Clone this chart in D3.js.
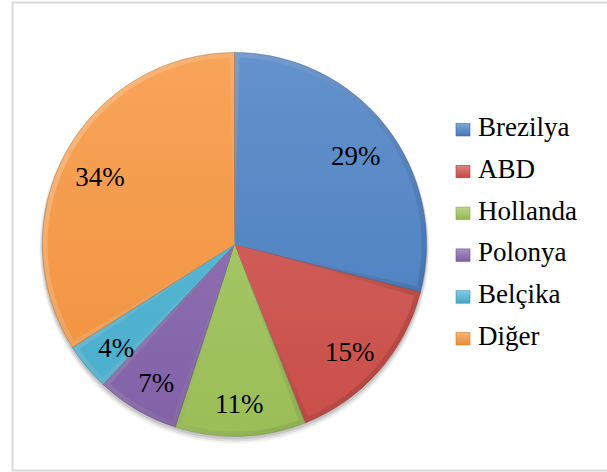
<!DOCTYPE html>
<html>
<head>
<meta charset="utf-8">
<script src="https://cdn.jsdelivr.net/npm/d3@7/dist/d3.min.js"></script>
</head>
<body style="margin:0">
<svg id="chart" width="607" height="472"></svg>
<script>
// data
const categories = ["Brezilya", "ABD", "Hollanda", "Polonya", "Belçika", "Diğer"];
const shares = [29, 15, 11, 7, 4, 34];
const palette = ["#4A80C4", "#CF504B", "#9FC45A", "#8664AC", "#4AB2D2", "#F7953E"];

const FONT = "'Liberation Serif', 'Times New Roman', serif";
const cx = 234.5, cy = 244.5, radius = 192;

const svg = d3.select("#chart");
const defs = svg.append("defs");

// frame
svg.append("rect")
    .attr("x", 12.5).attr("y", 2.5)
    .attr("width", 610).attr("height", 468)
    .attr("fill", "#fff")
    .attr("stroke", "#d9d9d9")
    .attr("stroke-width", 2);

const tint = (c, t) => d3.interpolateRgb(c, "#fff")(t);

palette.forEach((c, i) => {
  // face: a touch lighter on top
  const g = defs.append("linearGradient").attr("id", "grad" + i)
      .attr("gradientUnits", "userSpaceOnUse")
      .attr("x1", 0).attr("y1", -radius).attr("x2", 0).attr("y2", radius);
  g.append("stop").attr("offset", "0%").attr("stop-color", tint(c, 0.14));
  g.append("stop").attr("offset", "100%").attr("stop-color", d3.color(c).darker(0.08));

  // bevel band: light upper-left, dark lower-right
  const b = defs.append("linearGradient").attr("id", "bevel" + i)
      .attr("gradientUnits", "userSpaceOnUse")
      .attr("x1", -radius * 0.7).attr("y1", -radius * 0.7).attr("x2", radius * 0.7).attr("y2", radius * 0.7);
  b.append("stop").attr("offset", "0%").attr("stop-color", tint(c, 0.3));
  b.append("stop").attr("offset", "100%").attr("stop-color", d3.color(c).darker(0.35));

  const lg = defs.append("linearGradient").attr("id", "leg" + i)
      .attr("x1", 0).attr("y1", 0).attr("x2", 0).attr("y2", 1);
  lg.append("stop").attr("offset", "0%").attr("stop-color", tint(c, 0.3));
  lg.append("stop").attr("offset", "100%").attr("stop-color", d3.color(c).darker(0.2));
});

const pie = d3.pie().value(d => d).sort(null);
const arcs = pie(shares);

const outer = d3.arc().innerRadius(0).outerRadius(radius);
const inner = d3.arc().innerRadius(0).outerRadius(radius - 5)
    .padAngle(10 / radius).padRadius(radius);
const labelArc = d3.arc().innerRadius(radius * 0.8).outerRadius(radius * 0.8);

const g = svg.append("g").attr("transform", `translate(${cx},${cy})`);

// soft shadow: a few faint rings just below the pie
[4, 3, 2].forEach((o, k) => {
  g.append("circle")
      .attr("cx", 0).attr("cy", o)
      .attr("r", radius + o - 1)
      .attr("fill", "#000")
      .attr("fill-opacity", 0.05 + k * 0.03);
});

g.selectAll("path.edge")
  .data(arcs).join("path")
    .attr("class", "edge")
    .attr("d", outer)
    .attr("fill", (d, i) => `url(#bevel${i})`)
    .attr("stroke", (d, i) => d3.color(palette[i]).darker(0.9))
    .attr("stroke-opacity", 0.6)
    .attr("stroke-width", 0.8);

g.selectAll("path.face")
  .data(arcs).join("path")
    .attr("class", "face")
    .attr("d", inner)
    .attr("fill", (d, i) => `url(#grad${i})`);

// percentage labels, placed in page coordinates
svg.append("g").selectAll("text")
  .data(arcs).join("text")
    .attr("x", d => cx + labelArc.centroid(d)[0])
    .attr("y", d => cy + labelArc.centroid(d)[1] + 15)
    .attr("text-anchor", "middle")
    .attr("font-family", FONT)
    .attr("font-size", 27)
    .attr("fill", "#000")
    .text(d => d.data + "%");

// legend
const legendY = d3.scalePoint().domain(categories).range([136, 345]);
const legend = svg.append("g");

legend.selectAll("rect")
  .data(categories).join("rect")
    .attr("x", 456).attr("y", d => legendY(d) - 12.5)
    .attr("width", 14).attr("height", 12.5)
    .attr("fill", (d, i) => `url(#leg${i})`)
    .attr("stroke", (d, i) => d3.color(palette[i]).darker(0.5))
    .attr("stroke-width", 0.6);

legend.selectAll("text")
  .data(categories).join("text")
    .attr("x", 478).attr("y", d => legendY(d))
    .attr("font-family", FONT)
    .attr("font-size", 27)
    .attr("fill", "#000")
    .text(d => d);
</script>
</body>
</html>
